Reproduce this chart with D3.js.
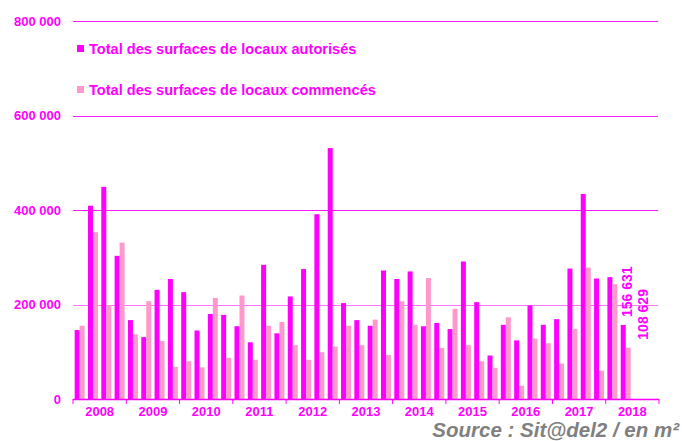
<!DOCTYPE html>
<html>
<head>
<meta charset="utf-8">
<script src="https://cdn.jsdelivr.net/npm/d3@7"></script>
<style>
  body { margin: 0; background: #fff; }
  svg text { font-family: "Liberation Sans", Arial, sans-serif; font-weight: bold; }
</style>
</head>
<body>
<div id="chart"></div>
<script>
// quarterly values, 2008 Q1 -> 2018 Q2 (m²)
var years = ["2008", "2009", "2010", "2011", "2012", "2013", "2014", "2015", "2016", "2017", "2018"];
var autorises = [146000, 409000, 449000, 303000, 167000, 131000, 231000, 254000,
	226000, 145000, 180000, 178000, 154000, 120000, 284000, 139000,
	217000, 275000, 391000, 531000, 203000, 167000, 155000, 272000,
	254000, 270000, 154000, 161000, 148000, 291000, 205000, 92000,
	157000, 124000, 198000, 157000, 169000, 276000, 434000, 255000,
	258000, 156631];
var commences = [155000, 353000, 199000, 331000, 137000, 207000, 123000, 68000,
	80000, 67000, 214000, 87000, 219000, 83000, 155000, 163000,
	114000, 83000, 99000, 111000, 155000, 114000, 168000, 93000,
	207000, 157000, 256000, 108000, 191000, 114000, 80000, 66000,
	173000, 28000, 128000, 118000, 75000, 148000, 278000, 60000,
	243000, 108629];
var yTicks = [0, 200000, 400000, 600000, 800000];
var seriesNames = ["Total des surfaces de locaux autorisés", "Total des surfaces de locaux commencés"];

var width = 682, height = 441;
var magenta = "#ff00ff", pink = "#ff99cc";

var svg = d3.select("#chart").append("svg")
	.attr("width", width)
	.attr("height", height);

var plotLeft = 73, plotRight = 659, plotTop = 21, plotBottom = 399;

var y = d3.scaleLinear().domain([0, 800000]).range([plotBottom, plotTop]);

// 4 quarters per year, 2018 only half filled
var nSlots = years.length * 4;
var x0 = d3.scaleBand().domain(d3.range(nSlots)).range([plotLeft, plotRight])
	.paddingInner(0.25).paddingOuter(0.125);
var x1 = d3.scaleBand().domain(["aut", "com"]).range([0, x0.bandwidth()]);
var xYear = d3.scaleBand().domain(years).range([plotLeft, plotRight]);

var fmt = function(v) { return d3.format(",")(v).replace(/,/g, " "); };

//grid lines
svg.selectAll(".grid")
	.data(yTicks.filter(function(d) { return d > 0; }))
	.enter().append("line")
	.attr("x1", plotLeft).attr("x2", plotRight - 1)
	.attr("y1", function(d) { return Math.round(y(d)) + 0.5; })
	.attr("y2", function(d) { return Math.round(y(d)) + 0.5; })
	.attr("stroke", magenta)
	.attr("stroke-opacity", function(d) { return d == 200000 ? 0.55 : 0.9; })
	.attr("stroke-width", 1);

//y labels
svg.selectAll(".ylab")
	.data(yTicks)
	.enter().append("text")
	.attr("x", 61)
	.attr("y", function(d) { return y(d) + 4.5; })
	.attr("text-anchor", "end")
	.attr("font-size", 13)
	.attr("fill", magenta)
	.text(function(d) { return fmt(d); });

var rows = autorises.map(function(d, i) { return { i: i, aut: d, com: commences[i] }; });

var groups = svg.selectAll(".q")
	.data(rows)
	.enter().append("g")
	.attr("transform", function(d) { return "translate(" + x0(d.i) + ",0)"; });

groups.append("rect")
	.attr("x", x1("aut"))
	.attr("width", x1.bandwidth())
	.attr("y", function(d) { return y(d.aut); })
	.attr("height", function(d) { return plotBottom - y(d.aut); })
	.attr("fill", magenta);

groups.append("rect")
	.attr("x", x1("com"))
	.attr("width", x1.bandwidth())
	.attr("y", function(d) { return y(d.com); })
	.attr("height", function(d) { return plotBottom - y(d.com); })
	.attr("fill", pink);

//x axis
svg.append("line")
	.attr("x1", plotLeft).attr("x2", plotRight)
	.attr("y1", plotBottom + 0.5).attr("y2", plotBottom + 0.5)
	.attr("stroke", magenta).attr("stroke-width", 1.5);

svg.selectAll(".xtick")
	.data(years.concat(["end"]))
	.enter().append("line")
	.attr("x1", function(d) { return d == "end" ? plotRight : xYear(d); })
	.attr("x2", function(d) { return d == "end" ? plotRight : xYear(d); })
	.attr("y1", plotBottom).attr("y2", plotBottom + 5)
	.attr("stroke", magenta).attr("stroke-width", 1);

svg.selectAll(".xlab")
	.data(years)
	.enter().append("text")
	.attr("x", function(d) { return xYear(d) + xYear.bandwidth() / 2; })
	.attr("y", 416)
	.attr("text-anchor", "middle")
	.attr("font-size", 13)
	.attr("fill", magenta)
	.text(function(d) { return d; });

//labels on last quarter
var last = rows[rows.length - 1];
var lastLabels = [
	{ v: last.aut, cx: x0(last.i) + x1("aut") + x1.bandwidth() / 2 + 4, gap: 8 },
	{ v: last.com, cx: x0(last.i) + x1("com") + x1.bandwidth() / 2 + 15, gap: 8 }
];
svg.selectAll(".vlab")
	.data(lastLabels)
	.enter().append("text")
	.attr("transform", function(d) {
		return "translate(" + d.cx + "," + (y(d.v) - d.gap) + ") rotate(-90)";
	})
	.attr("dy", "0.35em")
	.attr("font-size", 14)
	.attr("fill", magenta)
	.text(function(d) { return fmt(d.v); });

//legend
var legend = svg.selectAll(".leg")
	.data(seriesNames)
	.enter().append("g")
	.attr("transform", function(d, i) { return "translate(77," + (45 + i * 41) + ")"; });

legend.append("rect")
	.attr("width", 7).attr("height", 7)
	.attr("fill", function(d, i) { return i == 0 ? magenta : pink; });

legend.append("text")
	.attr("x", 12)
	.attr("y", 8.5)
	.attr("font-size", 14.6)
	.attr("fill", magenta)
	.text(function(d) { return d; });

//source
svg.append("text")
	.attr("x", 679)
	.attr("y", 437)
	.attr("text-anchor", "end")
	.attr("font-size", 20.5)
	.attr("font-style", "italic")
	.attr("fill", "#808080")
	.text("Source : Sit@del2 / en m²");
</script>
</body>
</html>
